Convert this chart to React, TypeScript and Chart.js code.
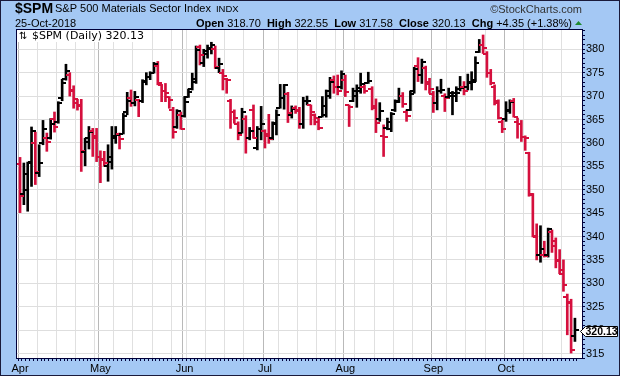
import React, { useEffect, useRef } from 'react';
import { Chart, registerables } from 'chart.js';

Chart.register(...registerables);

// ---------- text ----------
const SYMBOL = '$SPM';
const INDEX_NAME = 'S&P 500 Materials Sector Index';
const EXCHANGE = 'INDX';
const AS_OF = '25-Oct-2018';
const WATERMARK = '\u00A9StockCharts.com';
const LEGEND_LABEL = '$SPM (Daily)';

// ---------- categories (trading days) ----------
const START_DATE = '2018-04-02';
const END_DATE = '2018-10-25';
const HOLIDAYS = ['2018-05-28', '2018-07-04', '2018-09-03'];
const MONTH_NAMES = ['Jan', 'Feb', 'Mar', 'Apr', 'May', 'Jun', 'Jul', 'Aug', 'Sep', 'Oct', 'Nov', 'Dec'];

// ---------- series ----------
const PRIOR_CLOSE = 357.5;
const OPEN = [
  355.5, 349.0, 350.0, 356.0, 360.0, 353.5, 360.0, 361.0, 361.0, 365.0,
  364.5, 369.5, 373.6, 374.5, 371.0, 368.5, 368.0, 358.0, 361.0, 362.5,
  361.0, 357.0, 356.5, 355.0, 356.0, 361.0, 361.8, 362.0, 366.5, 369.5,
  368.5, 369.1, 369.0, 373.0, 374.0, 375.0, 376.5, 372.3, 371.0, 369.8,
  367.0, 363.3, 366.0, 365.8, 369.9, 371.5, 373.0, 380.5, 377.0, 379.0,
  380.0, 380.0, 376.0, 375.0, 373.7, 369.0, 366.5, 364.0, 362.2, 365.0,
  361.0, 367.0, 359.0, 363.0, 362.5, 361.5, 361.0, 364.0, 367.5, 369.5,
  370.5, 366.0, 367.5, 367.0, 364.0, 369.0, 368.0, 366.0, 364.5, 365.5,
  366.0, 370.0, 373.5, 372.0, 372.0, 373.5, 368.0, 369.0, 370.0, 371.0,
  372.0, 372.8, 371.5, 367.5, 365.0, 361.5, 363.1, 363.0, 367.0, 369.0,
  370.0, 366.5, 367.0, 371.0, 376.5, 374.5, 376.0, 373.0, 370.5, 368.5,
  371.0, 370.0, 369.7, 370.0, 370.0, 371.5, 372.0, 372.0, 373.0, 373.5,
  379.5, 381.0, 379.0, 375.0, 372.0, 368.5, 364.5, 365.0, 367.0, 369.0,
  364.5, 364.0, 361.3, 357.9, 349.0, 340.0, 336.0, 336.0, 336.0, 341.0,
  338.0, 334.8, 332.0, 327.0, 326.0, 318.70,
];
const HIGH = [
  356.9, 355.7, 355.9, 363.4, 362.3, 359.6, 364.8, 362.1, 365.2, 366.6,
  368.8, 373.6, 376.8, 375.0, 372.2, 369.3, 369.3, 361.0, 363.5, 363.1,
  363.1, 358.3, 358.2, 359.6, 363.5, 363.5, 362.1, 366.3, 370.8, 371.3,
  371.0, 369.3, 373.5, 375.0, 375.2, 377.2, 377.4, 372.5, 372.7, 369.9,
  367.6, 367.1, 366.6, 369.9, 371.5, 374.9, 380.7, 380.9, 380.0, 380.9,
  381.5, 380.7, 378.1, 375.7, 373.8, 369.3, 367.05, 364.5, 367.4, 365.8,
  363.3, 368.1, 363.5, 367.8, 362.8, 366.1, 364.5, 367.05, 372.5, 372.5,
  370.8, 367.9, 367.9, 367.6, 369.75, 370.0, 368.1, 366.2, 365.3, 369.9,
  371.3, 374.0, 374.3, 374.5, 375.4, 374.5, 368.1, 371.7, 372.4, 374.9,
  372.4, 375.1, 372.0, 369.4, 368.6, 363.85, 365.3, 366.5, 369.2, 371.7,
  370.75, 367.05, 371.1, 376.15, 378.2, 377.9, 376.4, 373.8, 371.0, 372.0,
  373.6, 370.5, 371.7, 371.0, 372.0, 374.2, 373.1, 374.7, 375.2, 378.4,
  382.1, 383.05, 379.5, 375.7, 372.4, 369.2, 364.9, 368.8, 369.2, 369.5,
  365.3, 364.8, 361.5, 358.0, 349.2, 342.7, 342.3, 339.0, 341.8, 341.4,
  339.7, 337.2, 335.0, 327.7, 326.6, 322.55,
];
const LOW = [
  345.1, 346.8, 345.4, 350.7, 351.1, 352.8, 359.6, 358.2, 360.8, 362.3,
  364.2, 369.0, 373.4, 370.0, 367.4, 367.0, 353.9, 355.1, 358.7, 357.1,
  356.0, 351.5, 355.0, 351.8, 354.4, 359.9, 358.7, 361.9, 366.0, 367.8,
  367.9, 365.6, 368.6, 372.4, 373.5, 374.9, 372.4, 368.8, 368.8, 367.4,
  361.0, 363.1, 362.9, 365.5, 369.7, 371.3, 372.7, 376.65, 376.3, 378.1,
  379.0, 375.9, 375.0, 371.3, 370.6, 363.1, 364.2, 360.65, 362.1, 357.8,
  360.65, 361.0, 358.5, 360.65, 358.9, 359.9, 360.65, 361.7, 367.4, 367.2,
  364.35, 365.3, 366.3, 363.1, 363.1, 368.1, 363.85, 363.85, 362.8, 365.5,
  365.5, 369.5, 370.6, 370.25, 371.5, 369.9, 363.5, 368.8, 367.6, 370.6,
  370.6, 372.7, 367.05, 362.2, 364.6, 357.1, 362.8, 362.4, 366.7, 368.6,
  367.6, 364.6, 366.9, 370.6, 373.1, 372.7, 371.3, 370.6, 366.5, 367.05,
  370.6, 366.7, 369.5, 366.0, 368.8, 371.1, 370.25, 371.3, 371.3, 373.1,
  379.3, 379.1, 374.0, 372.4, 368.1, 365.1, 362.2, 364.6, 366.3, 365.5,
  361.0, 360.3, 358.4, 348.6, 339.9, 335.0, 334.5, 335.6, 335.6, 336.6,
  333.3, 332.05, 328.3, 319.0, 315.1, 317.58,
];
const CLOSE = [
  348.6, 353.4, 355.8, 362.6, 353.7, 355.7, 362.9, 360.2, 364.0, 363.5,
  368.6, 372.7, 375.4, 371.3, 369.3, 367.9, 358.2, 360.2, 362.4, 361.4,
  356.9, 356.3, 355.7, 356.9, 361.5, 361.6, 360.9, 365.8, 369.0, 368.5,
  369.9, 368.9, 373.2, 374.0, 374.9, 376.8, 372.9, 371.0, 370.6, 369.2,
  362.4, 366.8, 363.0, 368.8, 370.9, 373.7, 379.85, 378.8, 379.7, 380.2,
  380.9, 376.3, 376.8, 374.3, 373.45, 366.5, 365.3, 361.65, 366.7, 361.15,
  362.6, 361.1, 363.0, 364.0, 361.9, 360.9, 364.2, 366.0, 369.5, 372.3,
  366.3, 367.2, 366.8, 364.1, 368.9, 369.0, 366.7, 365.3, 363.1, 367.9,
  371.0, 373.1, 371.9, 371.0, 374.7, 370.8, 367.6, 371.1, 371.7, 372.5,
  371.1, 373.2, 367.9, 364.2, 366.8, 361.2, 364.5, 366.1, 368.8, 370.0,
  368.3, 365.8, 370.5, 375.8, 374.5, 377.2, 372.5, 371.5, 368.5, 371.1,
  371.3, 369.5, 370.6, 370.65, 370.75, 371.7, 371.0, 372.9, 373.1, 377.0,
  380.9, 380.2, 374.9, 372.9, 369.0, 365.4, 363.0, 366.9, 368.8, 365.6,
  364.1, 361.3, 361.1, 348.8, 340.1, 336.0, 337.3, 335.75, 341.6, 339.0,
  335.0, 332.8, 329.7, 325.9, 315.78, 320.13,
];

// ---------- axis ----------
const Y_MIN = 313.83;
const Y_MAX = 384.33;
const Y_TICK_STEP = 5;

// ---------- styles ----------
const UP_COLOR = '#000000';
const DOWN_COLOR = '#d50f3d';
const BG_BLUE = '#a4c8f4';
const FRAME = '#00003a';
const SANS = '"Liberation Sans", Arial, sans-serif';

function tradingDays(start: string, end: string, holidays: string[]): Date[] {
  const out: Date[] = [];
  const d = new Date(start + 'T00:00:00Z');
  const e = new Date(end + 'T00:00:00Z');
  while (d.getTime() <= e.getTime()) {
    const dow = d.getUTCDay();
    const iso = d.toISOString().slice(0, 10);
    if (dow !== 0 && dow !== 6 && !holidays.includes(iso)) out.push(new Date(d.getTime()));
    d.setUTCDate(d.getUTCDate() + 1);
  }
  return out;
}

const DATES = tradingDays(START_DATE, END_DATE, HOLIDAYS);
const MONTH_START = DATES.map((d, i) => i === 0 || d.getUTCMonth() !== DATES[i - 1].getUTCMonth());
const WEEK_START = DATES.map((d, i) => i === 0 || d.getUTCDay() <= DATES[i - 1].getUTCDay());
const COLORS = CLOSE.map((c, i) => (c < (i === 0 ? PRIOR_CLOSE : CLOSE[i - 1]) ? DOWN_COLOR : UP_COLOR));

export default function App() {
  const ref = useRef<HTMLCanvasElement | null>(null);

  useEffect(() => {
    if (!ref.current) return;
    const n = CLOSE.length;
    const last = n - 1;
    const chg = CLOSE[last] - CLOSE[last - 1];
    const pct = (chg / CLOSE[last - 1]) * 100;
    const sign = (v: number) => (v >= 0 ? '+' : '');

    const yTicks: number[] = [];
    for (let v = Math.ceil(Y_MIN); v <= Math.floor(Y_MAX); v++) yTicks.push(v);

    const decor = {
      id: 'decor',
      beforeDraw(chart: any) {
        const { ctx, chartArea: a } = chart;
        ctx.save();
        ctx.fillStyle = BG_BLUE;
        ctx.fillRect(0, 0, chart.width, chart.height);
        ctx.fillStyle = '#ffffff';
        ctx.fillRect(a.left, a.top, a.right - a.left, a.bottom - a.top);
        ctx.restore();
      },
      afterDatasetsDraw(chart: any) {
        const { ctx } = chart;
        const xs = chart.scales.x;
        const ys = chart.scales.y;
        ctx.save();
        for (let i = 0; i < n; i++) {
          const x = Math.round(xs.getPixelForValue(i));
          ctx.fillStyle = COLORS[i];
          const yo = Math.round(ys.getPixelForValue(OPEN[i]));
          const yc = Math.round(ys.getPixelForValue(CLOSE[i]));
          ctx.fillRect(x - 4, yo - 1, 4, 2);
          ctx.fillRect(x, yc - 1, 4, 2);
        }
        ctx.restore();
      },
      afterDraw(chart: any) {
        const { ctx, chartArea: a } = chart;
        const ys = chart.scales.y;
        ctx.save();
        // plot frame
        ctx.strokeStyle = FRAME;
        ctx.lineWidth = 1;
        ctx.strokeRect(a.left + 0.5, a.top + 0.5, a.right - a.left - 1, a.bottom - a.top - 1);
        // outer border
        ctx.strokeStyle = '#1a1a3a';
        ctx.strokeRect(0.5, 0.5, chart.width - 1, chart.height - 1);

        // header
        ctx.fillStyle = '#000';
        ctx.textBaseline = 'alphabetic';
        ctx.textAlign = 'left';
        ctx.font = `bold 14px ${SANS}`;
        ctx.fillText(SYMBOL, 15, 13);
        ctx.font = `11px ${SANS}`;
        ctx.fillText(INDEX_NAME, 55, 12);
        const nameW = ctx.measureText(INDEX_NAME).width;
        ctx.font = `9.5px ${SANS}`;
        ctx.fillText(EXCHANGE, 55 + nameW + 5, 12);
        ctx.font = `11px ${SANS}`;
        ctx.fillText(AS_OF, 15, 27);
        ctx.textAlign = 'right';
        ctx.font = `11px ${SANS}`;
        ctx.fillStyle = '#333';
        ctx.fillText(WATERMARK, 582, 13);
        ctx.fillStyle = '#000';
        ctx.textAlign = 'left';

        const segs: [string, boolean][] = [
          ['Open', true], [' ' + OPEN[last].toFixed(2) + '  ', false],
          ['High', true], [' ' + HIGH[last].toFixed(2) + '  ', false],
          ['Low', true], [' ' + LOW[last].toFixed(2) + '  ', false],
          ['Close', true], [' ' + CLOSE[last].toFixed(2) + '  ', false],
          ['Chg', true], [' ' + sign(chg) + chg.toFixed(2) + ' (' + sign(pct) + pct.toFixed(2) + '%)', false],
        ];
        let total = 0;
        for (const [t, b] of segs) {
          ctx.font = `${b ? 'bold ' : ''}11px ${SANS}`;
          total += ctx.measureText(t).width;
        }
        let x = 572 - total;
        for (const [t, b] of segs) {
          ctx.font = `${b ? 'bold ' : ''}11px ${SANS}`;
          ctx.fillText(t, x, 27);
          x += ctx.measureText(t).width;
        }
        // green triangle
        ctx.fillStyle = chg >= 0 ? '#1f8a2e' : DOWN_COLOR;
        ctx.beginPath();
        ctx.moveTo(575, 25);
        ctx.lineTo(582, 25);
        ctx.lineTo(578.5, 21);
        ctx.closePath();
        ctx.fill();

        // in-plot legend
        ctx.fillStyle = '#ffffff';
        ctx.fillRect(a.left + 1, a.top + 1, 131, 12);
        ctx.fillStyle = '#000';
        ctx.font = `10px "DejaVu Sans", sans-serif`;
        ctx.fillText('\u21C5', 19, 39);
        ctx.font = `11px "DejaVu Sans", sans-serif`;
        ctx.fillText(LEGEND_LABEL + ' ' + CLOSE[last].toFixed(2), 32, 39);

        // last price tag
        const yc = Math.round(ys.getPixelForValue(CLOSE[last])) + 1;
        ctx.beginPath();
        ctx.moveTo(580.5, yc + 0.5);
        ctx.lineTo(585.5, yc - 4.5);
        ctx.lineTo(617.5, yc - 4.5);
        ctx.lineTo(617.5, yc + 5.5);
        ctx.lineTo(585.5, yc + 5.5);
        ctx.closePath();
        ctx.fillStyle = '#ffffff';
        ctx.fill();
        ctx.strokeStyle = '#000';
        ctx.stroke();
        ctx.fillStyle = '#000';
        ctx.font = `bold 10.5px ${SANS}`;
        ctx.textBaseline = 'middle';
        ctx.fillText(CLOSE[last].toFixed(2), 585.5, yc + 1);
        ctx.restore();
      },
    };

    const chart = new Chart(ref.current, {
      type: 'bar',
      data: {
        datasets: [
          {
            data: DATES.map((_, i) => ({ x: i, y: [LOW[i], HIGH[i]] })) as any,
            backgroundColor: COLORS,
            borderWidth: 0,
            barThickness: 2,
            grouped: false,
          } as any,
        ],
      },
      options: {
        responsive: false,
        animation: false,
        devicePixelRatio: 1,
        layout: { padding: { left: 16, top: 29, right: 0, bottom: 0 } },
        plugins: { legend: { display: false }, tooltip: { enabled: false } },
        scales: {
          x: {
            type: 'linear',
            min: -0.55,
            max: 146.6,
            afterBuildTicks: (s: any) => {
              s.ticks = DATES.map((_, i) => ({ value: i }));
            },
            afterFit: (s: any) => {
              s.height = 17;
            },
            ticks: {
              autoSkip: false,
              maxRotation: 0,
              minRotation: 0,
              padding: 1,
              color: '#000',
              font: { family: SANS, size: 11 },
              callback: (_v: any, idx: number) =>
                MONTH_START[idx] ? MONTH_NAMES[DATES[idx].getUTCMonth()] : '',
            },
            grid: {
              color: (c: any) =>
                MONTH_START[c.index] ? '#b9b9b9' : WEEK_START[c.index] ? '#e0e0e0' : 'rgba(0,0,0,0)',
              tickColor: FRAME,
              tickLength: 2,
              lineWidth: 1,
            },
            border: { display: false },
          },
          y: {
            position: 'right',
            min: Y_MIN,
            max: Y_MAX,
            afterBuildTicks: (s: any) => {
              s.ticks = yTicks.map((v) => ({ value: v }));
            },
            afterFit: (s: any) => {
              s.width = 37;
            },
            ticks: {
              autoSkip: false,
              padding: 1,
              color: '#000',
              font: { family: SANS, size: 11 },
              callback: (v: any) => (Number(v) % Y_TICK_STEP === 0 ? String(v) : ''),
            },
            grid: {
              color: (c: any) =>
                c.tick && c.tick.value % Y_TICK_STEP === 0 ? '#dedede' : 'rgba(0,0,0,0)',
              tickColor: FRAME,
              tickLength: 2,
              lineWidth: 1,
            },
            border: { display: false },
          },
        },
      } as any,
      plugins: [decor],
    });
    return () => chart.destroy();
  }, []);

  return (
    <div style={{ position: 'absolute', left: 0, top: 0, width: 620, height: 376 }}>
      <canvas ref={ref} width={620} height={376} style={{ display: 'block' }} />
    </div>
  );
}
